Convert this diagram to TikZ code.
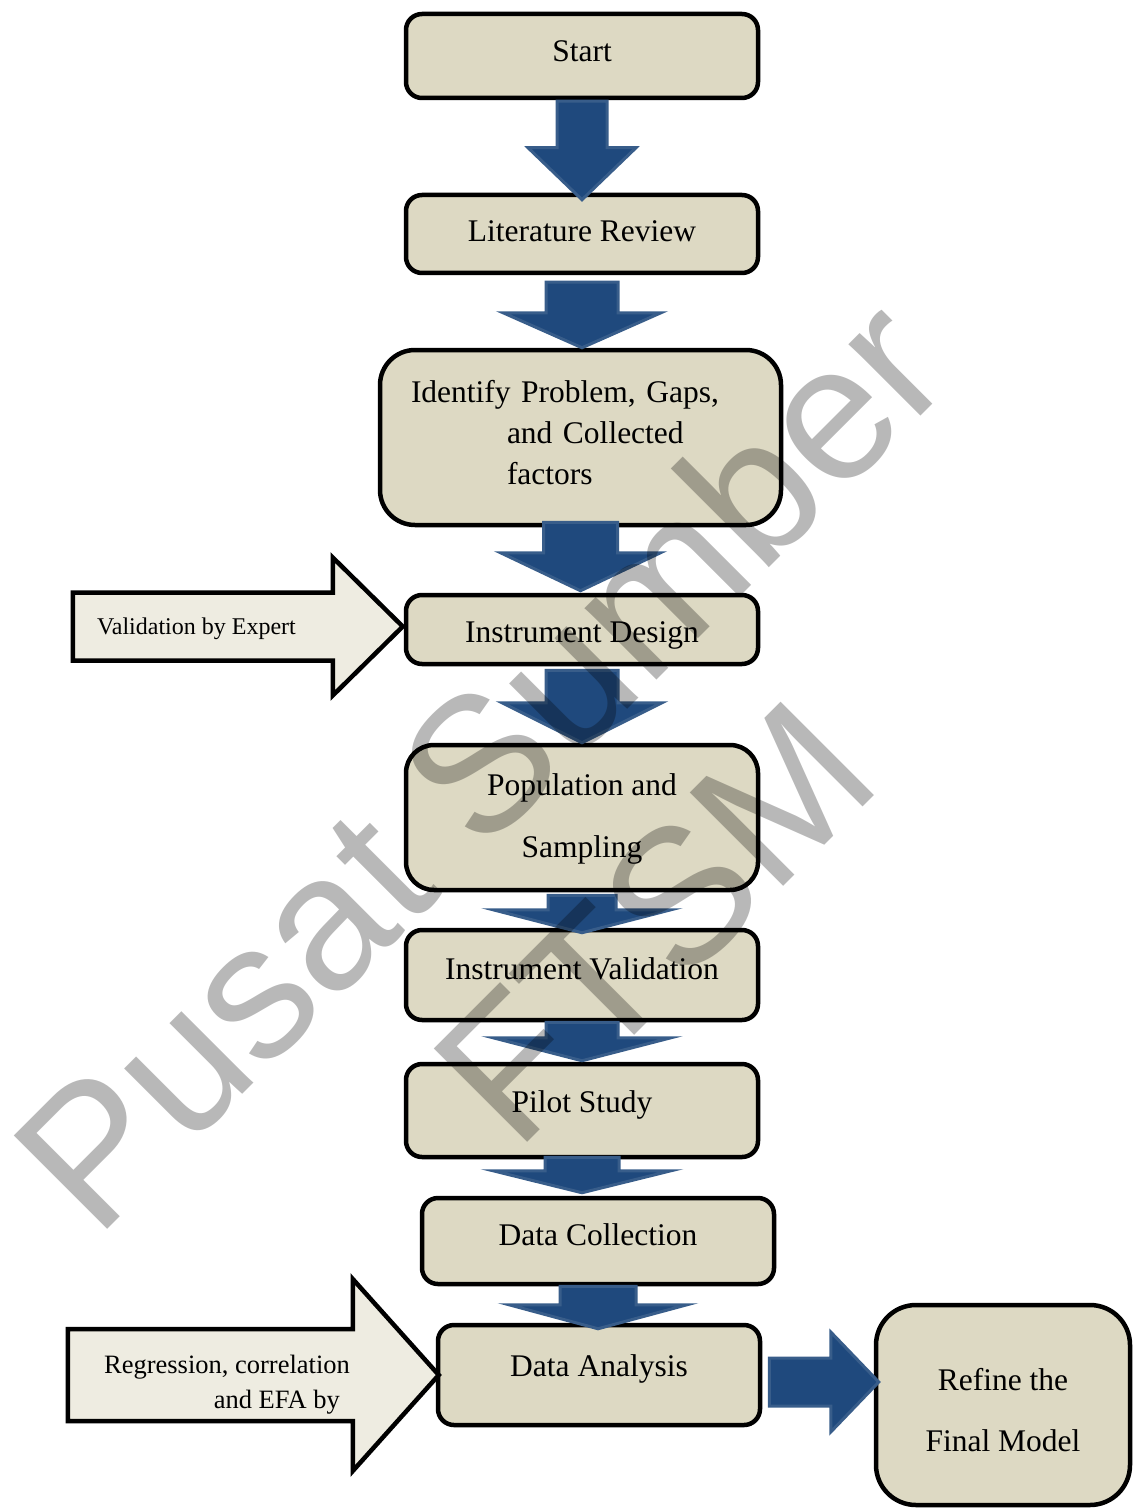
\documentclass[tikz,border=0pt]{standalone}
\usepackage{fontspec}
\setmainfont{Liberation Serif}
\newfontfamily\wmfont{Liberation Sans}
\usetikzlibrary{calc}

\definecolor{boxfill}{RGB}{221,217,195}
\definecolor{sidefill}{RGB}{238,236,225}
\definecolor{arrowfill}{RGB}{31,73,125}
\definecolor{arrowline}{RGB}{56,93,138}

\newcommand{\downblock}[7]{%
    \draw[bluearrow] let \p1=(#1.south), \p2=(#2.north) in
        ({\x1-#3},{\y1-(#7)}) -- ({\x1-#3},{\y2-(#6)+#5}) -- ({\x1-#4},{\y2-(#6)+#5}) -- ({\x1},{\y2-(#6)})
        -- ({\x1+#4},{\y2-(#6)+#5}) -- ({\x1+#3},{\y2-(#6)+#5}) -- ({\x1+#3},{\y1-(#7)}) -- cycle;}

\begin{document}
\begin{tikzpicture}[x=1pt,y=-1pt,
    box/.style={draw=black, line width=4.5pt, fill=boxfill, rounded corners=16pt, inner sep=0pt,
        align=center, font=\fontsize{31.5}{41}\selectfont},
    bluearrow/.style={fill=arrowfill, draw=arrowline, line width=3pt},
    sidearrow/.style={fill=sidefill, draw=black, line width=4.5pt},
    sidetext/.style={inner sep=0pt},
    wmtext/.style={text=black, text opacity=0.28, rotate=45, anchor=base, inner sep=0pt,
        font=\wmfont\fontsize{192}{240}\selectfont}]
    \useasboundingbox (0,0) rectangle (1135,1511);
    \node[box, minimum width=352pt, minimum height=84pt, text height=12pt, text depth=0pt] (start) at (582,56) {Start};
    \node[box, minimum width=352pt, minimum height=78pt, text height=16pt, text depth=0pt] (lit) at (582,234) {Literature Review};
    \node[box, minimum width=401pt, minimum height=175pt, rounded corners=35pt, text width=339pt, align=left] (ident) at (580.5,437.5)
        {Identify Problem, Gaps,\\\hspace*{96pt}and Collected\\\hspace*{96pt}factors\rule[-10pt]{0pt}{10pt}};
    \node[box, minimum width=352pt, minimum height=69pt, text height=25pt, text depth=0pt] (instr) at (582,629.5) {Instrument Design};
    \node[box, minimum width=352pt, minimum height=145pt, rounded corners=28pt, font=\fontsize{31.5}{62}\selectfont] (pop) at (582,817.5)
        {\rule{0pt}{25.5pt}Population and\\Sampling};
    \node[box, minimum width=352pt, minimum height=90pt, text height=8pt, text depth=0pt] (ival) at (582,975) {Instrument Validation};
    \node[box, minimum width=352pt, minimum height=93pt, text height=3pt, text depth=0pt] (pilot) at (582,1110.5) {Pilot Study};
    \node[box, minimum width=352pt, minimum height=86pt, text height=9pt, text depth=0pt] (dcol) at (598,1241) {Data Collection};
    \node[box, minimum width=322pt, minimum height=100pt, text height=2pt, text depth=0pt] (dana) at (599,1375) {Data Analysis};
    \node[box, minimum width=254pt, minimum height=200pt, rounded corners=40pt, font=\fontsize{31.5}{61}\selectfont] (refine) at (1003,1405)
        {\rule{0pt}{32.6pt}Refine the\\Final Model};

    \downblock{start}{lit}{25}{54}{52}{7}{1}
    \downblock{lit}{ident}{36}{79}{35}{0}{7}
    \downblock{ident}{instr}{37}{80}{38}{-2}{-5}
    \downblock{instr}{pop}{36}{80}{40}{0}{4}
    \downblock{pop}{ival}{34}{89}{23}{5}{3}
    \downblock{ival}{pilot}{36}{89}{23}{-1}{0}
    \downblock{pilot}{dcol}{37}{89}{22}{-3}{-2}
    \downblock{dcol}{dana}{38}{89}{24}{6}{0}
    \draw[bluearrow] let \p1=(dana.east), \p2=(refine.west) in
        (\x1+7,\y1+17) -- (\x2-43,\y1+17) -- (\x2-43,\y1+43) -- (\x2+5,\y1-7)
        -- (\x2-43,\y1-57) -- (\x2-43,\y1-31) -- (\x1+7,\y1-31) -- cycle;

    \draw[sidearrow] let \p1=(instr.west) in
        (\x1-1,\y1+3) -- (\x1-71,\y1+72) -- (\x1-71,\y1+37) -- (\x1-331,\y1+37)
        -- (\x1-331,\y1-31) -- (\x1-71,\y1-31) -- (\x1-71,\y1-66) -- cycle;
    \node[sidetext, anchor=west, font=\fontsize{24}{29}\selectfont] (valtext) at (97,629) {Validation by Expert};
    \draw[sidearrow] let \p1=(dana.west) in
        (\x1+3,\y1) -- (\x1-83,\y1+96) -- (\x1-83,\y1+46) -- (\x1-368,\y1+46)
        -- (\x1-368,\y1-46) -- (\x1-83,\y1-46) -- (\x1-83,\y1-96) -- cycle;
    \node[sidetext, align=right, font=\fontsize{26.5}{35}\selectfont] (regtext) at (227,1385)
        {Regression, correlation\\and EFA by\hspace*{10pt}};

    \node[wmtext] (wmone) at (527,810) {Pusat Sumber};
    \node[wmtext] (wmtwo) at (701,969) {FTSM};
\end{tikzpicture}
\end{document}
